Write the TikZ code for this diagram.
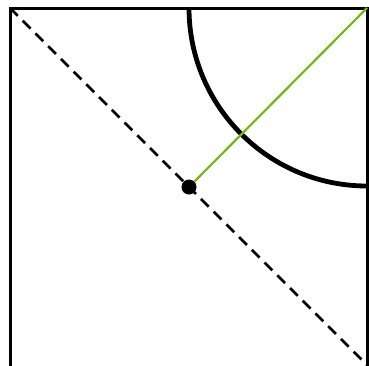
\documentclass[tikz,border=0pt]{standalone}
\definecolor{lgreen}{RGB}{125,178,25}
\begin{document}
\begin{tikzpicture}[x=1pt,y=-1pt,
  edge/.style={line width=3pt},
  diag/.style={line width=2.6pt,dash pattern=on 11pt off 7pt},
  arcline/.style={line width=4.8pt},
  ray/.style={line width=2.2pt,draw=lgreen},
  dotnode/.style={circle,fill=black,inner sep=0pt,minimum size=15pt}]
\useasboundingbox (0,0) rectangle (369,365);
\coordinate (bl) at (10,366);
\coordinate (tl) at (10,8);
\coordinate (tr) at (367,8);
\coordinate (br) at (367,366);
\coordinate (dend) at (367,365);
\draw[edge,line join=miter] (bl) -- (tl) -- (tr) -- (br);
\draw[diag] (tl) -- (dend);
\draw[arcline] (189,8) arc[start angle=180,end angle=90,radius=178];
\node[dotnode] (c) at (189,187) {};
\draw[ray] (c) -- (tr);
\end{tikzpicture}
\end{document}
